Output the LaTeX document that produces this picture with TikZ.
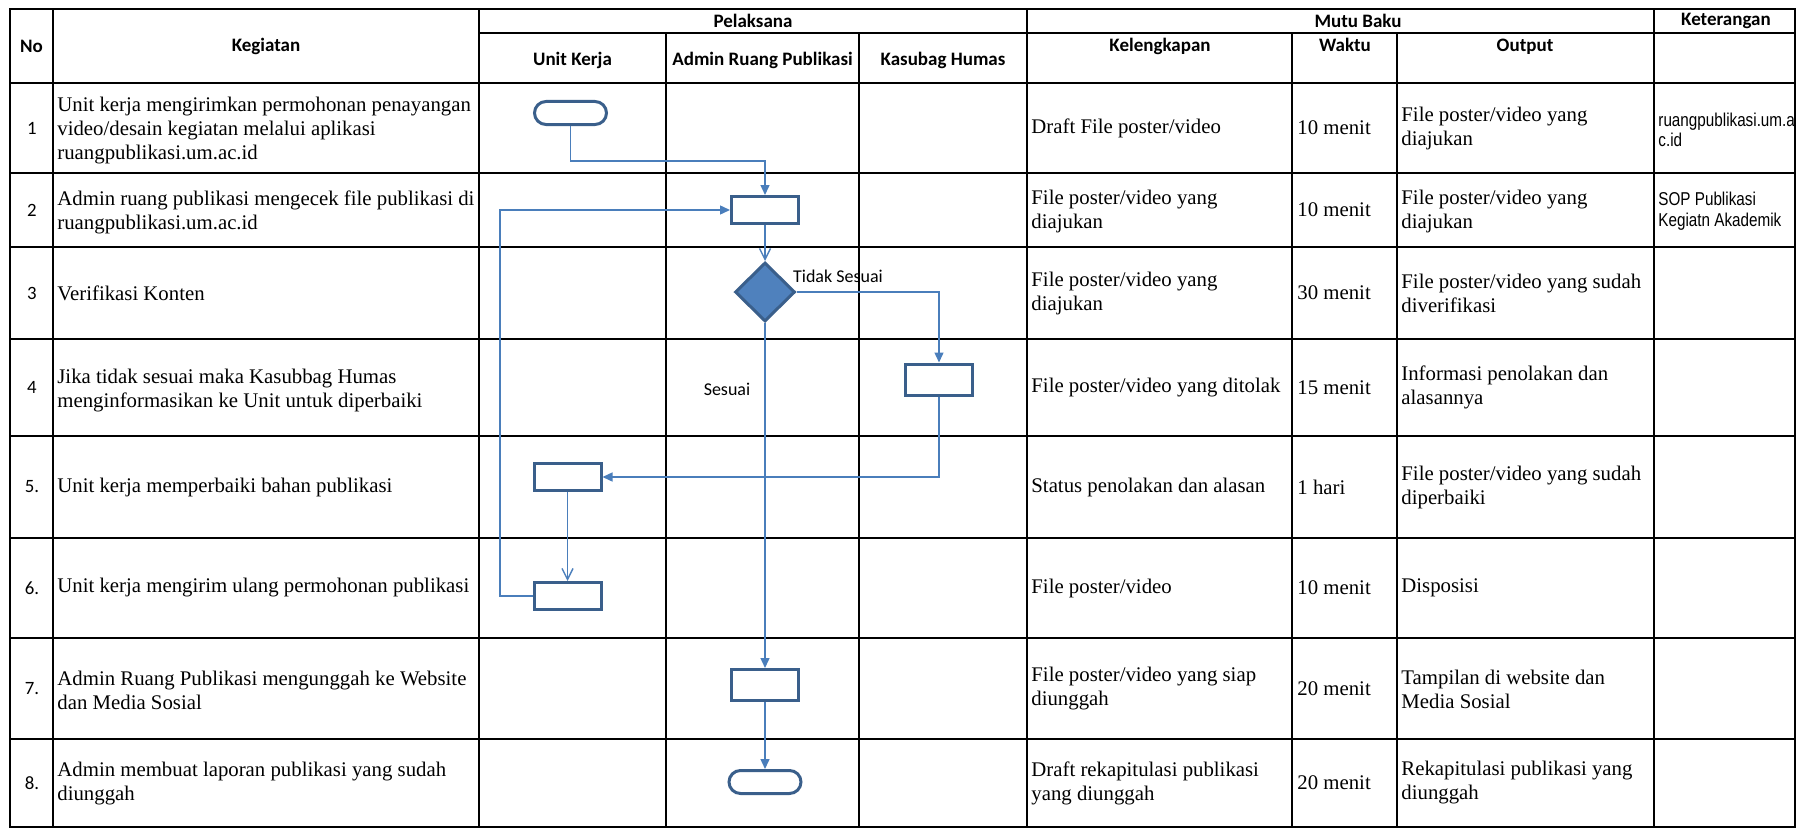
\documentclass[tikz,border=0pt]{standalone}
\usepackage{fontspec}
\setmainfont{Liberation Serif}
\newfontfamily\calfont{Carlito}
\newfontfamily\narrowfont[FakeStretch=0.82]{Liberation Sans}
\usetikzlibrary{arrows.meta,shapes.geometric,shapes.misc}
\definecolor{shapeborder}{HTML}{3A5F8B}
\definecolor{shapefill}{HTML}{4F81BD}
\definecolor{connc}{HTML}{4A7EBB}
\tikzset{
  tbl/.style={line width=1pt, black},
  proc/.style={rectangle, draw=shapeborder, line width=1.5pt, fill=white, minimum width=33.5pt, minimum height=13.5pt, inner sep=0pt},
  term/.style={rounded rectangle, draw=shapeborder, line width=1.5pt, fill=white, minimum width=36pt, minimum height=11.5pt, inner sep=0pt},
  dec/.style={diamond, draw=shapeborder, fill=shapefill, line width=1.5pt, minimum width=30pt, minimum height=29.5pt, inner sep=0pt},
  conn/.style={draw=connc, line width=0.7pt},
  arr/.style={conn, -{Triangle[length=5pt,width=4.5pt]}},
  varr/.style={conn, -{Straight Barb[length=5.5pt,width=5.5pt]}},
  cell/.style={anchor=west, align=left, inner sep=0pt, font=\fontsize{10.4pt}{12pt}\selectfont},
  hdr/.style={inner sep=0pt, font=\calfont\bfseries\fontsize{9.5pt}{11pt}\selectfont},
  num/.style={inner sep=0pt, font=\calfont\fontsize{9.4pt}{11pt}\selectfont},
  ket/.style={anchor=west, align=left, inner sep=0pt, font=\narrowfont\fontsize{9.3pt}{10.3pt}\selectfont},
  lbl/.style={inner sep=0pt, font=\calfont\fontsize{9pt}{11pt}\selectfont},
}
\begin{document}
\begin{tikzpicture}[x=0.5pt,y=-0.5pt]
\useasboundingbox (0,0) rectangle (1797,829);
% ---------- table grid ----------
\draw[tbl] (10,9) rectangle (1795,827);
\draw[tbl] (479,33) -- (1795,33);
\draw[tbl] (10,83) -- (1795,83);
\foreach \yy in {173,247,339,436,538,638,739} \draw[tbl] (10,\yy) -- (1795,\yy);
\foreach \xx in {53,479,1027,1654} \draw[tbl] (\xx,9) -- (\xx,827);
\foreach \xx in {666,859,1292,1397} \draw[tbl] (\xx,33) -- (\xx,827);
% ---------- headers ----------
\node[hdr] (hno) at (31.5,46) {No};
\node[hdr] (hkeg) at (266,46) {Kegiatan};
\node[hdr] (hpel) at (753,21) {Pelaksana};
\node[hdr] (hmutu) at (1358,21) {Mutu Baku};
\node[hdr] (hket) at (1726,21) {Keterangan};
\node[hdr, anchor=base] (hunit) at (572.5,66) {Unit Kerja};
\node[hdr, anchor=base] (hadm) at (762.5,66) {Admin Ruang Publikasi};
\node[hdr, anchor=base] (hkas) at (943,66) {Kasubag Humas};
\node[hdr, anchor=base] (hkel) at (1160,52) {Kelengkapan};
\node[hdr, anchor=base] (hwak) at (1345,52) {Waktu};
\node[hdr, anchor=base] (hout) at (1525,52) {Output};
% ---------- numbers ----------
\node[num] (n1) at (32,128) {1};
\node[num] (n2) at (32,210) {2};
\node[num] (n3) at (32,293) {3};
\node[num] (n4) at (32,387.5) {4};
\node[num] (n5) at (32,487) {5.};
\node[num] (n6) at (32,588) {6.};
\node[num] (n7) at (32,688.5) {7.};
\node[num] (n8) at (32,783) {8.};
% ---------- kegiatan ----------
\node[cell] (k1) at (57,131) {Unit kerja mengirimkan permohonan penayangan\\video/desain kegiatan melalui aplikasi\\ruangpublikasi.um.ac.id};
\node[cell] (k2) at (57,212) {Admin ruang publikasi mengecek file publikasi di\\ruangpublikasi.um.ac.id};
\node[cell] (k3) at (57,293) {Verifikasi Konten};
\node[cell] (k4) at (57,391) {Jika tidak sesuai maka Kasubbag Humas\\menginformasikan ke Unit untuk diperbaiki};
\node[cell] (k5) at (57,487) {Unit kerja memperbaiki bahan publikasi};
\node[cell] (k6) at (57,588) {Unit kerja mengirim ulang permohonan publikasi};
\node[cell] (k7) at (57,690) {Admin Ruang Publikasi mengunggah ke Website\\dan Media Sosial};
\node[cell] (k8) at (57,784) {Admin membuat laporan publikasi yang sudah\\diunggah};
% ---------- kelengkapan ----------
\node[cell] (l1) at (1031,128) {Draft File poster/video};
\node[cell] (l2) at (1031,211) {File poster/video yang\\diajukan};
\node[cell] (l3) at (1031,293) {File poster/video yang\\diajukan};
\node[cell] (l4) at (1031,387.5) {File poster/video yang ditolak};
\node[cell] (l5) at (1031,487) {Status penolakan dan alasan};
\node[cell] (l6) at (1031,588) {File poster/video};
\node[cell] (l7) at (1031,689) {File poster/video yang siap\\diunggah};
\node[cell] (l8) at (1031,783) {Draft rekapitulasi publikasi\\yang diunggah};
% ---------- waktu ----------
\node[cell] (w1) at (1297,128) {10 menit};
\node[cell] (w2) at (1297,210) {10 menit};
\node[cell] (w3) at (1297,293) {30 menit};
\node[cell] (w4) at (1297,387.5) {15 menit};
\node[cell] (w5) at (1297,487) {1 hari};
\node[cell] (w6) at (1297,588) {10 menit};
\node[cell] (w7) at (1297,688.5) {20 menit};
\node[cell] (w8) at (1297,783) {20 menit};
% ---------- output ----------
\node[cell] (o1) at (1401,128) {File poster/video yang\\diajukan};
\node[cell] (o2) at (1401,211) {File poster/video yang\\diajukan};
\node[cell] (o3) at (1401,293) {File poster/video yang sudah\\diverifikasi};
\node[cell] (o4) at (1401,387.5) {Informasi penolakan dan\\alasannya};
\node[cell] (o5) at (1401,487) {File poster/video yang sudah\\diperbaiki};
\node[cell] (o6) at (1401,588) {Disposisi};
\node[cell] (o7) at (1401,689) {Tampilan di website dan\\Media Sosial};
\node[cell] (o8) at (1401,783) {Rekapitulasi publikasi yang\\diunggah};
% ---------- keterangan ----------
\node[ket] (e1) at (1658,130) {ruangpublikasi.um.a\\c.id};
\node[ket] (e2) at (1658,211) {SOP Publikasi\\Kegiatn Akademik};
% ---------- flowchart ----------
\node[term] (t1) at (570.5,113) {};
\node[proc] (b2) at (765,210) {};
\node[dec] (d3) at (765,292) {};
\node[proc, minimum height=15.5pt] (b4) at (939,379.5) {};
\node[proc] (b5) at (567.5,477) {};
\node[proc] (b6) at (567.5,596) {};
\node[proc, minimum height=15.5pt] (b7) at (765,685) {};
\node[term] (t8) at (765,782) {};
\coordinate (k1bend) at (0,161);
\coordinate (loopx) at (500,0);
\draw[arr] (t1.south) -- (t1.south |- k1bend) -| (b2.north);
\draw[varr] (b2.south) -- (d3.north);
\draw[arr] (d3.east) -| (b4.north);
\draw[arr] (d3.south) -- (b7.north);
\draw[arr] (b4.south) |- (b5.east);
\draw[varr] (b5.south) -- (b6.north);
\draw[arr] (b6.west) -- (b6.west -| loopx) |- (b2.west);
\draw[arr] (b7.south) -- (t8.north);
\node[lbl] (tslbl) at (838,276) {Tidak Sesuai};
\node[lbl] (slbl) at (727,389) {Sesuai};
\end{tikzpicture}
\end{document}
